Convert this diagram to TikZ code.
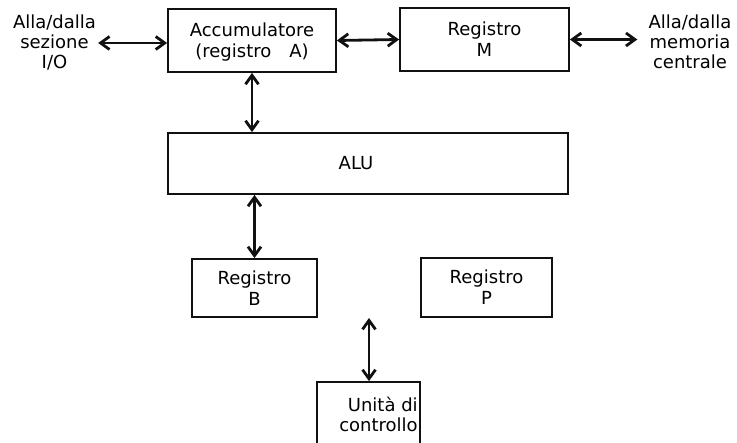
\documentclass[tikz,border=0pt]{standalone}
\usepackage{fontspec}
\setmainfont{DejaVu Sans}
\usepackage{tikz}
\usetikzlibrary{positioning, arrows.meta}
\definecolor{inkBlack}{HTML}{111111}

\begin{document}
\begin{tikzpicture}[x=1pt, y=-1pt,
  regbox/.style={draw=inkBlack, line width=1.8pt, inner sep=0pt, align=center, font=\fontsize{18}{21}\selectfont},
  bus/.style={{Straight Barb[length=9pt, width=13pt]}-{Straight Barb[length=9pt, width=13pt]}, line width=2.8pt, color=inkBlack},
  side/.style={align=center, inner sep=2pt, font=\fontsize{18}{20}\selectfont}]
  \useasboundingbox (0,0) rectangle (737,443);
  % registers and ALU
  \node[regbox, minimum width=168pt, minimum height=63pt] (acc) at (252, 40.5) {\rule{0pt}{17pt}Accumulatore\\(registro\quad A)};
  \node[regbox, minimum width=169pt, minimum height=63pt] (regM) at (484.5, 39.5) {Registro\\M};
  \node[regbox, minimum width=400pt, minimum height=61pt] (alu) at (368, 163.5) {ALU\hspace{24pt}};
  \node[regbox, minimum width=125pt, minimum height=58pt] (regB) at (254.5, 288) {Registro\\B};
  \node[regbox, minimum width=131pt, minimum height=59pt] (regP) at (486.5, 287.5) {Registro\\P};
  \node[regbox, minimum width=103pt, minimum height=96pt,
    label={[anchor=north east, align=right, inner sep=0pt, xshift=-3pt, yshift=-16pt, font=\fontsize{18}{20}\selectfont]north east:{Unità di\\controllo}}] (cu) at (368.5, 430) {};
  % outside connections
  \node[side] (io) at (54.5, 43) {Alla/dalla\\sezione\\I/O};
  \node[side] (mem) at (690, 42) {Alla/dalla\\memoria\\centrale};
  \draw[bus] (io.east) -- (io.east -| acc.west);
  \draw[bus] (acc.east) -- (regM.west);
  \draw[bus, shorten >=9pt] (regM.east) -- (regM.east -| mem.west);
  \draw[bus] (acc.south) -- (acc.south |- alu.north);
  \draw[bus] (regB.north |- alu.south) -- (regB.north);
  \coordinate (cuLink) at (369, 318);
  \draw[bus] (cuLink) -- (cuLink |- cu.north);
\end{tikzpicture}
\end{document}
